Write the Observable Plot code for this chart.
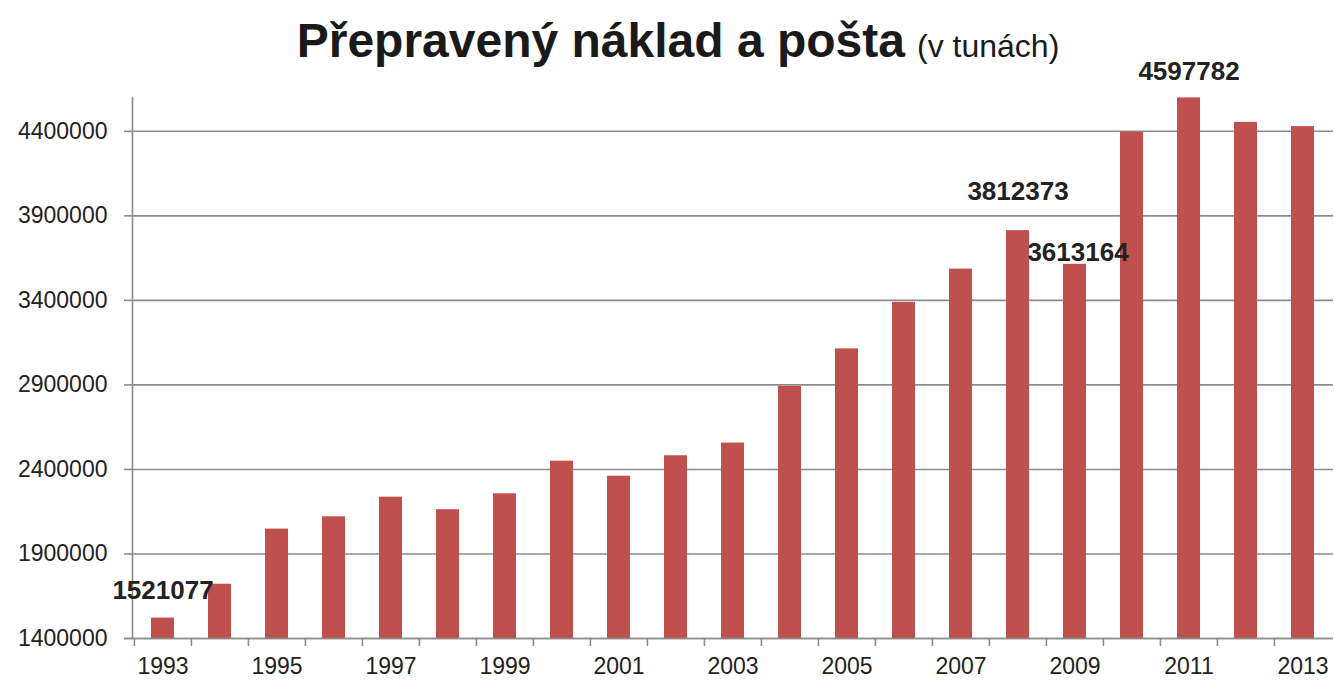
<!DOCTYPE html>
<html>
<head>
<meta charset="utf-8">
<script src="https://cdn.jsdelivr.net/npm/d3@7"></script>
<script src="https://cdn.jsdelivr.net/npm/@observablehq/plot@0.6"></script>
<style>
  html, body { margin: 0; padding: 0; background: #fff; overflow: hidden; }
  body { width: 1334px; height: 682px; font-family: "Liberation Sans", Arial, sans-serif; }
  #title { position: relative; z-index: 1; height: 40px; overflow: visible; box-sizing: border-box; padding-top: 13px; padding-left: 22px; text-align: center; white-space: nowrap; color: #1a1a1a; line-height: 56px; }
  #title .main { font-size: 48px; font-weight: bold; }
  #title .sub { font-size: 32px; font-weight: normal; margin-left: 12px; }
  #chart svg { background: transparent; }
</style>
</head>
<body>
<div id="title"><span class="main">Přepravený náklad a pošta</span><span class="sub">(v tunách)</span></div>
<div id="chart"></div>
<script>
const years = [1993, 1994, 1995, 1996, 1997, 1998, 1999, 2000, 2001, 2002, 2003, 2004, 2005, 2006, 2007, 2008, 2009, 2010, 2011, 2012, 2013];
const tonnes = [1521077, 1721000, 2047000, 2120000, 2236000, 2162000, 2256000, 2449000, 2360000, 2481000, 2556000, 2891000, 3113000, 3388000, 3585000, 3812373, 3613164, 4395000, 4597782, 4453000, 4428000];
const yTicks = [1400000, 1900000, 2400000, 2900000, 3400000, 3900000, 4400000];
const xTickLabels = [1993, 1995, 1997, 1999, 2001, 2003, 2005, 2007, 2009, 2011, 2013];
const labeledYears = [1993, 2008, 2009, 2011];

const data = years.map((year, i) => ({year, value: tonnes[i]}));

const W = 1334, H = 642, mL = 132, mR = 1, mT = 57, mB = 44;
const step = (W - mL - mR) / years.length;
const grey = "#8c8c8c";
const textColor = "#222";

function valueLabel(year, dy, dx = 0) {
  return Plot.text(data.filter(d => d.year === year && labeledYears.includes(d.year)), {
    x: "year", y: "value", text: d => String(d.value),
    dy, dx, fontSize: 26, fontWeight: "bold", fill: textColor
  });
}

const chart = Plot.plot({
  width: W, height: H,
  marginLeft: mL, marginRight: mR, marginTop: mT, marginBottom: mB,
  style: {fontFamily: "'Liberation Sans', Arial, sans-serif", background: "transparent", overflow: "visible"},
  x: {type: "band", domain: years, paddingInner: 0.6, paddingOuter: 0.3, align: 0.5},
  y: {domain: [1400000, 4600000]},
  marks: [
    Plot.gridY(yTicks, {stroke: grey, strokeOpacity: 1, strokeWidth: 1.6}),
    Plot.frame({anchor: "left", stroke: grey, strokeWidth: 1.6}),
    Plot.barY(data, {x: "year", y1: 1400000, y2: "value", fill: "#C0504D"}),
    Plot.axisY({ticks: yTicks, tickSize: 8, tickPadding: 17, tickFormat: d => String(d),
      stroke: grey, strokeWidth: 1.6, fontSize: 23, fill: textColor, label: null}),
    Plot.axisX({ticks: years, tickSize: 8, dx: -step / 2, tickFormat: () => "",
      stroke: grey, strokeWidth: 1.6, label: null}),
    Plot.axisX({ticks: xTickLabels, tickSize: 0, tickPadding: 19, tickFormat: d => String(d),
      fontSize: 23, fill: textColor, label: null}),
    Plot.ruleY([1400000], {stroke: grey, strokeWidth: 1.6, insetLeft: -8}),
    valueLabel(1993, -27),
    valueLabel(2008, -39),
    valueLabel(2009, -12, 3),
    valueLabel(2011, -26)
  ]
});
document.getElementById("chart").appendChild(chart);
</script>
</body>
</html>
